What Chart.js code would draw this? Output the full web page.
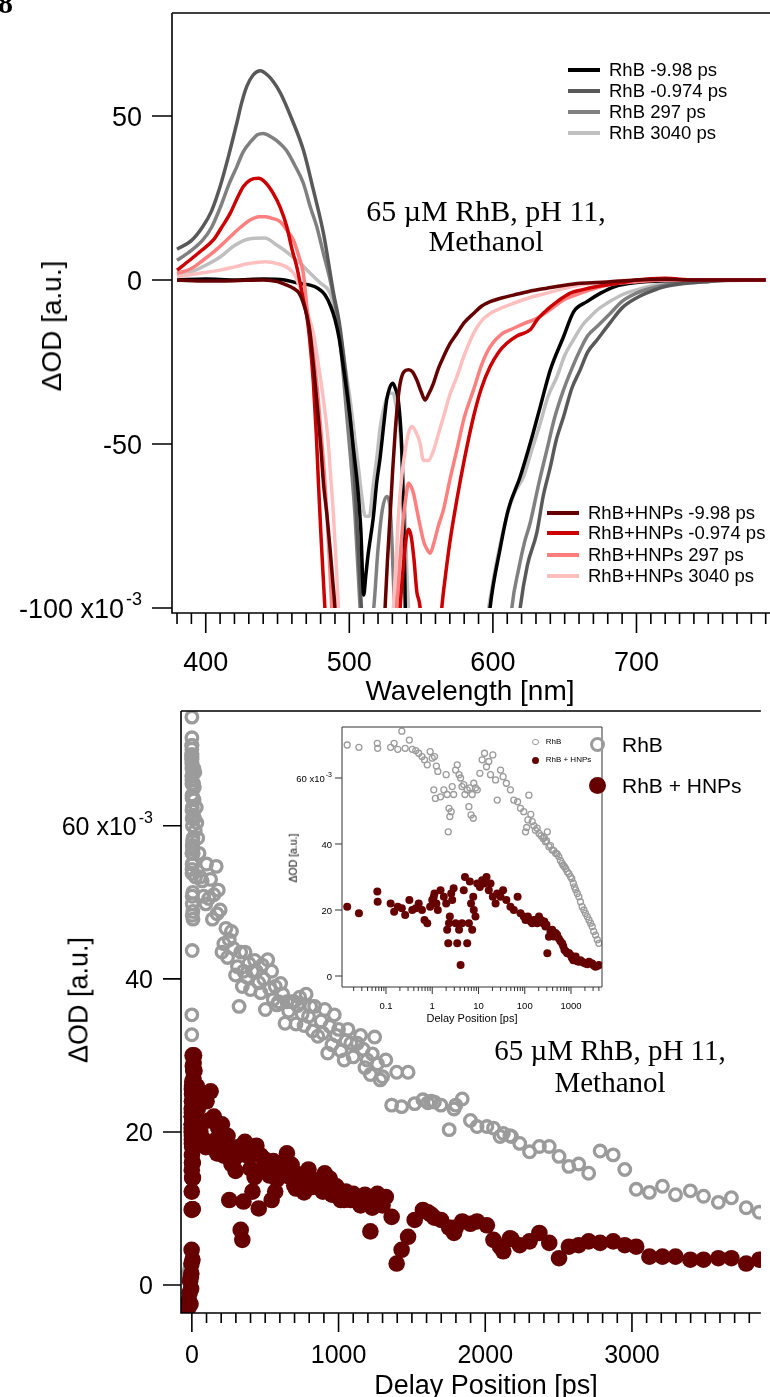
<!DOCTYPE html>
<html>
<head>
<meta charset="utf-8">
<script src="https://cdn.jsdelivr.net/npm/chart.js@4.4.1/dist/chart.umd.min.js"></script>
<style>
  body { margin: 0; background: #fff; }
  #page { position: relative; width: 770px; height: 1397px; overflow: hidden; background: #fff;
          font-family: 'Liberation Sans', Arial, sans-serif; color: #000; }
  canvas { position: absolute; }
  .t { position: absolute; white-space: nowrap; line-height: 1; }
  .mid { transform: translate(-50%, -50%); }
  .rot { transform: translate(-50%, -50%) rotate(-90deg); }
  .serif { font-family: 'Liberation Serif', 'Times New Roman', serif; text-align: center; }
</style>
</head>
<body>
<div id="page">
  <canvas id="spectra" width="770" height="700" style="left:0;top:0"></canvas>
  <canvas id="kinetics" width="770" height="697" style="left:0;top:700px"></canvas>
  <canvas id="inset" width="340" height="320" style="left:280px;top:710px"></canvas>

  <div class="t" style="left:-2px;top:-12px;font:bold 30px 'Liberation Serif',serif;line-height:30px">8</div>

  <div class="t rot" style="left:52px;top:326px;font-size:28px">ΔOD [a.u.]</div>
  <div class="t mid" style="left:470px;top:691px;font-size:28px">Wavelength [nm]</div>
  <div class="t serif" style="left:336px;top:196px;width:300px;font-size:30px;line-height:30px">65 µM RhB, pH 11,<br>Methanol</div>

  <div class="t rot" style="left:79px;top:1000px;font-size:27px">ΔOD [a.u.]</div>
  <div class="t mid" style="left:486px;top:1385px;font-size:27px">Delay Position [ps]</div>
  <div class="t serif" style="left:460px;top:1035px;width:300px;font-size:29px;line-height:31.5px">65 µM RhB, pH 11,<br>Methanol</div>

  <div class="t rot" style="left:293px;top:858px;font-size:10.5px">ΔOD [a.u.]</div>
  <div class="t mid" style="left:472px;top:1018px;font-size:11px">Delay Position [ps]</div>
</div>

<script>
// ---- transient spectra (ΔOD in units of 1e-3) ----
const rhbNeg998Nm = [380, 400, 420, 440, 455, 465, 472, 478, 483, 487, 490, 493, 496, 500, 503, 506, 508, 510, 511.5, 513, 516.8, 519, 521.5, 524, 526, 528, 530.3, 532, 534.2, 536.6, 538, 539.5, 545, 592, 598, 605, 610.7, 619, 626, 633, 640, 649.2, 656.2, 665.5, 675, 685, 700, 720, 750, 790];
const rhbNeg998Od = [0, 0.3, 0, 0.3, 0, -1, -1.5, -2.5, -4.5, -8, -12, -18, -27, -40, -52, -64, -76, -96, -90, -84, -72, -62, -54, -44, -36.6, -33, -31.5, -33, -37, -52, -75, -110, -130, -130, -100, -82, -70, -60, -49.8, -38.6, -27.4, -17.3, -9.7, -6.6, -4, -2, -0.8, -0.2, 0, 0];

const rhbNeg0974Nm = [380, 390, 398, 404, 410, 416, 421.6, 425, 428.6, 433, 438, 443, 447, 452, 460, 468, 475, 482, 489, 493, 496, 499, 502.6, 506, 509, 512, 612, 619, 624, 630.6, 635, 640, 644, 649.2, 655, 660.8, 666, 672.5, 681.7, 690, 700, 710, 720, 735, 750, 770, 790];
const rhbNeg0974Od = [9.4, 12, 16.3, 21, 28.5, 38, 47.8, 54, 59, 62.5, 63.8, 62.5, 60.5, 57, 49, 39.6, 27.4, 14.2, -4, -13, -23, -35, -52, -80, -105, -130, -130, -100, -87, -77, -66, -57, -49, -41.7, -33, -27.4, -22, -18.3, -13, -8.5, -5.5, -3.5, -2, -1, -0.5, 0, 0];

const rhb297Nm = [380, 390, 398, 404, 410, 416, 421.6, 426, 431, 436, 440, 446, 452, 456, 462, 468, 473, 477.3, 482, 486.6, 491.3, 495, 498.3, 501, 504, 507.5, 510, 513, 517, 520, 523, 526, 528.5, 531, 533, 560, 608, 613.2, 618, 622, 626, 632, 637.6, 643, 649.2, 655, 660.8, 666, 672.5, 681.7, 690, 700, 710, 720, 740, 760, 790];
const rhb297Od = [6, 9, 12.2, 16, 22, 29, 34.5, 39, 42, 44.3, 44.7, 43.5, 41.5, 39.6, 35, 29.5, 22, 16.3, 8, 0, -11, -25, -41.7, -55, -72, -100, -115, -110, -100, -82, -70, -66, -70, -95, -120, -130, -130, -100, -88, -80, -74, -62, -51.8, -42, -33.5, -27, -21.3, -17, -14.2, -10.2, -6.5, -4, -2.5, -1.5, -0.5, 0, 0];

const rhb3040Nm = [380, 390, 400, 410, 420, 430, 441, 450, 458, 466, 474, 480, 486, 490, 493.6, 497, 500.6, 503.5, 506.3, 509, 511, 514, 516.5, 519.2, 521.5, 523.8, 526, 528.4, 530.5, 532, 535.4, 537.5, 538.9, 540, 541.2, 543, 590, 597, 603, 609.7, 615, 621.3, 627, 633, 638, 644.6, 650, 656, 662, 667.8, 673, 679.4, 690, 700, 720, 750, 790];
const rhb3040Od = [1.5, 2.5, 4.5, 7, 10.5, 12.5, 12.8, 10.5, 8, 5, 1.5, -1, -3.5, -9, -16.3, -26, -36.6, -47, -57, -67, -72, -72, -63, -54, -45, -39.6, -36, -34.5, -34.5, -37, -46.7, -60, -72, -88, -100, -120, -120, -100, -85, -72, -65, -60, -52, -43.7, -36, -29.5, -23, -18.3, -14, -11.2, -9, -7.1, -4.5, -3, -1, -0.3, 0];

const hnpNeg998Nm = [380, 400, 420, 440, 450, 456, 461, 465, 468, 470.5, 472.7, 475, 477.3, 480, 482, 484.5, 486.6, 488.5, 490, 492, 522, 524.9, 526.5, 528.4, 530.2, 531.9, 533.5, 535.4, 538, 541.2, 544, 547, 550, 552.8, 555, 558.6, 562, 565.6, 570, 574.9, 580, 586.5, 592, 598.1, 606, 614.4, 625, 637.6, 650, 660.8, 680, 700, 720, 740, 790];
const hnpNeg998Od = [0, -0.3, -0.2, 0, -0.5, -1.5, -2.5, -4, -7.1, -11, -16.3, -26, -36.6, -50, -62, -72, -82, -92, -100, -120, -120, -100, -86, -72, -58, -46.7, -38, -31.5, -28, -27.4, -28, -30.5, -34, -36.6, -35, -31.5, -27, -23.4, -19.5, -16.3, -13, -10.2, -8, -6.6, -5.5, -4.6, -3.5, -2.5, -1.6, -1, -0.6, 0, 0.2, 0, 0];

const hnpNeg0974Nm = [380, 389, 397, 405.3, 411, 417, 422, 426.2, 431, 436.7, 442, 447, 452, 456.4, 460, 463.4, 466, 468, 470.4, 472.8, 475, 477, 478.5, 480.5, 483, 486, 533, 535.4, 537.5, 539.5, 541.2, 543, 545, 547, 549.3, 552, 561, 564.4, 567, 570, 574.9, 580, 586.5, 592, 598.1, 604, 609.7, 617, 625.9, 631, 637.6, 645, 653.9, 662, 672.5, 690, 700, 720, 740, 790];
const hnpNeg0974Od = [3, 6.1, 9, 12.2, 16, 20.3, 25, 28.5, 30.5, 31, 29.5, 26.4, 22, 16.3, 9.5, 4, -1.5, -6.1, -11, -20, -31.5, -47, -62, -80, -100, -120, -120, -100, -88, -79, -76, -78, -85, -95, -100, -120, -120, -100, -90, -80, -67, -55, -41.7, -33, -26.4, -22, -19.3, -17, -15.2, -12, -9.1, -6.5, -4, -3, -2, -0.8, 0, 0.5, 0, 0];

const hnp297Nm = [380, 390, 398.3, 408, 417, 424, 430.9, 437, 441.3, 446, 451.8, 456, 461, 465, 468, 470.4, 473, 475, 477.3, 480, 483.1, 485.5, 487.8, 490, 530, 533, 535.5, 537.7, 539.5, 541.2, 543, 544.7, 547, 549.3, 552, 554, 556.3, 559, 562, 565.6, 570, 574.9, 580, 586.5, 592, 598.1, 606, 614.4, 622, 630.6, 640, 649.2, 658, 667.8, 680, 700, 720, 790];
const hnp297Od = [2, 3.5, 6.1, 9.5, 13.2, 16, 18.3, 19.3, 19.3, 18.8, 17.8, 15.5, 12.2, 7, 2, -8, -17, -23, -31.5, -45, -62, -80, -100, -120, -120, -100, -84, -72, -66, -62, -63, -65, -70, -75, -80, -82, -83.3, -80, -75, -70, -61, -51.8, -42, -33.5, -26, -20.3, -16.5, -14.7, -13.2, -11.7, -9, -6.1, -4.5, -3, -1.5, -0.5, 0, 0];

const hnp3040Nm = [380, 395, 410, 420, 430, 441.3, 450, 458, 462, 466, 470, 473, 475, 478.5, 482, 485, 487, 489, 491, 492.4, 495, 528, 530.7, 532.5, 534.2, 536.5, 538.9, 541, 543.5, 546, 549.3, 551.6, 555, 558.6, 562, 565.6, 570, 574.9, 580, 586.5, 592, 598.1, 606, 614.4, 625, 637.6, 650, 660.8, 680, 700, 790];
const hnp3040Od = [1, 2, 3, 4, 5, 5.6, 5, 3.5, 1.5, -3, -9, -13, -16.3, -26, -36.6, -48, -60, -72, -88, -100, -120, -120, -100, -86, -72, -60, -52, -47, -44.7, -46, -49.8, -55, -55, -52, -47, -41.7, -35, -29.5, -23, -16.3, -12.5, -10.2, -8.5, -7.1, -5.5, -4, -2.5, -1.5, -0.6, 0, 0];

const spectraLabels = ['RhB -9.98 ps', 'RhB -0.974 ps', 'RhB 297 ps', 'RhB 3040 ps',
                       'RhB+HNPs -9.98 ps', 'RhB+HNPs -0.974 ps', 'RhB+HNPs 297 ps', 'RhB+HNPs 3040 ps'];
const spectraColors = ['#000000', '#595959', '#808080', '#bfbfbf', '#660000', '#cc0000', '#ff7f7f', '#ffbfbf'];
const spectraNm = [rhbNeg998Nm, rhbNeg0974Nm, rhb297Nm, rhb3040Nm, hnpNeg998Nm, hnpNeg0974Nm, hnp297Nm, hnp3040Nm];
const spectraOd = [rhbNeg998Od, rhbNeg0974Od, rhb297Od, rhb3040Od, hnpNeg998Od, hnpNeg0974Od, hnp297Od, hnp3040Od];

const spectraXTicks = [400, 500, 600, 700];
const spectraXLabels = ['400', '500', '600', '700'];
const spectraYTicks = [-100, -50, 0, 50];
const spectraYLabels = ['-100 x10^-3', '-50', '0', '50'];

// ---- kinetics (ΔOD in units of 1e-3 vs delay in ps) ----
const insetDelay = [0.0145, 0.026, 0.065, 0.066, 0.126, 0.15, 0.18, 0.22, 0.26, 0.32, 0.37, 0.44, 0.51, 0.6, 0.68, 0.78, 0.9, 1.0, 1.08, 1.12, 1.17, 1.23, 1.32, 1.51, 1.78, 2.0, 2.1, 2.22, 2.3, 2.4, 2.57, 2.7, 2.9, 3.2, 3.47, 3.8, 4.1, 4.4, 4.8, 5.1, 5.7, 6.2, 6.5, 6.9, 7.3, 7.7, 7.9, 8.6, 9.4, 10.7, 12, 13.5, 14.9, 16.7, 18.2, 20.4, 23.4, 25.4, 30, 34, 40, 49, 58, 70, 81, 95, 104, 110, 117, 123, 135, 145, 158, 170, 185, 203, 225, 250, 265, 280, 295, 308, 333, 360, 392, 425, 464, 500, 545, 590, 643, 680, 722, 770, 828, 900, 978, 1040, 1120, 1190, 1260, 1370, 1480, 1600, 1740, 1900, 2050, 2250, 2440, 2650, 2870, 3100, 3390, 3700, 4000];
const insetRhb = [70, 69.3, 70.5, 69, 69.3, 70.5, 68.7, 74.2, 69, 71.5, 68.7, 68.3, 67.5, 66.5, 65.5, 64, 68, 66, 56.4, 66.5, 53.8, 63.6, 62, 54.3, 56.4, 61, 55, 43.7, 50.8, 48.3, 49.8, 57.4, 55, 62.4, 64, 61, 60, 57.4, 58, 55, 56.4, 51.3, 57, 48.8, 55, 47.8, 58.4, 57, 56.4, 61.4, 65.5, 67.5, 63.4, 65, 61, 67, 59.4, 53.3, 62.4, 60.4, 58.4, 56.4, 53.3, 52.8, 50.8, 49.8, 43.7, 45, 47.3, 54.8, 49, 46.8, 45.5, 44.2, 44.8, 43.2, 42.5, 41.7, 42, 40.7, 41, 43.7, 39.2, 39.5, 38.2, 38, 37.2, 37, 36.2, 35, 34.1, 33.5, 33.1, 32.5, 31.6, 31, 30.1, 29.5, 28.1, 27, 26.1, 25, 24, 22.5, 21, 20, 19, 18, 17, 16, 15, 13.5, 12.4, 11, 9.9];
const insetHnp = [21, 19, 25.6, 22.5, 22, 19.5, 21, 20.5, 18.5, 23, 20, 20.5, 22, 20, 17, 16, 21, 23, 24, 25, 22, 22, 20, 26, 24, 22, 14, 9.9, 16, 18, 25, 23, 26.6, 16, 9.9, 14, 3.3, 16, 26, 30, 9.9, 16, 28.6, 22, 14, 24, 20, 18, 28, 27, 29, 28, 30, 26, 28, 24, 22, 25, 24, 26, 23, 21, 20, 24, 19, 18, 17, 17.5, 18, 17, 16.5, 16, 17, 17, 16, 18, 17, 16, 16.5, 15, 15.5, 6.9, 11.9, 13.5, 14, 12, 13, 12.5, 11.4, 10.5, 9.9, 9, 7.9, 7.5, 6.9, 7, 6.4, 5.5, 4.8, 5.2, 5.9, 4.5, 4.3, 4.8, 4.3, 4, 3.8, 3.6, 4.3, 3.9, 3.8, 3.2, 2.8, 3, 3.3];

// points before time zero (only on the linear plot)
const preDelay = [-25, -20, -15, -12, -9, -7, -5, -3.5, -2.5, -1.5, -1, -0.6, -0.3];
const preRhb = [1.5, 0.8, 2, 1.2, 2.5, 1, 1.8, 2.2, 1.4, 2.6, 14, 32.7, 35.3];
const preHnp = [-3, -2, -1, 0.5, -2.5, 1, -0.5, 1.5, 2.8, 4.6, 9.8, 12.2, 15];

// long delays
const lateDelay = [100, 128, 150, 166, 180, 193, 205, 232, 255, 282, 311, 322, 333, 344, 352, 362, 389, 413, 440, 456, 490, 501, 517, 544, 568, 591, 620, 635, 648, 680, 698, 720, 752, 779, 810, 837, 859, 881, 906, 926, 971, 1000, 1038, 1064, 1083, 1128, 1168, 1195, 1217, 1246, 1284, 1322, 1362, 1396, 1430, 1474, 1519, 1575, 1609, 1631, 1653, 1698, 1754, 1787, 1799, 1843, 1899, 1944, 2011, 2056, 2101, 2123, 2168, 2179, 2235, 2302, 2369, 2436, 2503, 2570, 2637, 2705, 2783, 2872, 2951, 3029, 3119, 3208, 3297, 3398, 3488, 3589, 3678, 3779, 3868];
const lateRhb = [55, 53, 51, 54.7, 51.6, 49, 43.5, 46.6, 45.1, 44, 41.6, 36.4, 43.5, 39, 41, 43.5, 42, 41, 41, 39.5, 40, 36, 42.5, 41, 39, 37, 38, 34.2, 37, 37, 37, 36.5, 35.4, 38, 36.4, 36.4, 32.5, 34.5, 36, 30.3, 35.3, 33.4, 29.4, 33.4, 31.6, 31.6, 30.8, 29.4, 27.5, 32.4, 26.8, 29.4, 23.5, 27.8, 23.3, 27.8, 23.7, 24.2, 23.8, 24, 23.9, 23.5, 20.3, 23, 23.5, 24.3, 21.5, 20.7, 20.7, 20.5, 19.4, 19.8, 19.5, 19.4, 18.5, 17.4, 18.1, 18.1, 16.8, 15.5, 15.8, 14.6, 17.5, 17, 15.1, 12.5, 12.1, 12.9, 11.8, 12.3, 11.6, 10.8, 11.4, 10.1, 9.5];
const lateHnp = [24, 25.3, 22, 19, 20.5, 19, 21, 17.7, 11.1, 16.2, 18, 17, 7.2, 5.9, 10.9, 18.7, 16.8, 12.2, 18.2, 10, 16.5, 16, 15.7, 11.1, 12.2, 15, 14.5, 16, 17.2, 15.7, 13, 14.5, 13.6, 14.6, 13.7, 13.5, 13.7, 13.7, 14.6, 13.2, 12.5, 11.5, 11.1, 11.5, 11.1, 11.3, 11.5, 10.6, 7, 11, 10.7, 11.5, 8.9, 2.8, 4.6, 6.3, 8.5, 9.8, 9.5, 9.2, 8.8, 8.5, 7.5, 6.8, 7.5, 8.3, 8, 8.3, 7.8, 5.9, 5, 4.4, 6.1, 6, 5.2, 5.7, 6.8, 5.5, 3.5, 5, 5.2, 5.7, 5.5, 5.7, 5.2, 5, 3.7, 3.7, 3.7, 3.3, 3.3, 3.5, 3.5, 2.8, 3.3];

// more points in the crowded 100-1300 ps band of the linear plot
const midDelay = [115, 140, 172, 218, 243, 270, 298, 375, 400, 428, 470, 480, 530, 555, 580, 605, 660, 710, 735, 765, 795, 823, 893, 940, 955, 985, 1015, 1050, 1100, 1150, 1180, 1230, 1265, 1300];
const midRhb = [50.5, 47.8, 48.5, 44.6, 42.8, 46.2, 40.5, 40.2, 38.6, 42.4, 38.2, 41.8, 38.7, 37.3, 36.6, 39.4, 35.8, 34.1, 37.6, 33.9, 35.1, 33.2, 32.9, 33.8, 31.4, 32.6, 30.6, 31.9, 29.8, 32.6, 28.4, 30.2, 28.9, 27.2];
const midHnp = [21.5, 18.4, 17.2, 16.9, 19.5, 15.8, 14.9, 17.6, 15.2, 14.1, 16.9, 15.1, 14.3, 16.2, 13.8, 15.5, 14.2, 12.6, 13.9, 12.1, 15.1, 12.8, 12.2, 13.9, 11.8, 12.9, 11.1, 12.2, 11.9, 10.4, 11.8, 10.1, 11.9, 10.4];

const kinXTicks = [0, 1000, 2000, 3000];
const kinXLabels = ['0', '1000', '2000', '3000'];
const kinYTicks = [0, 20, 40, 60];
const kinYLabels = ['0', '20', '40', '60 x10^-3'];
const insetXTicks = [0.1, 1, 10, 100, 1000];
const insetXLabels = ['0.1', '1', '10', '100', '1000'];

const grayRing = '#9b9b9b';
const darkRed = '#660000';

// Igor-style axes: ticks outside, frame lines, labels with exponent
const igorAxes = {
  id: 'igorAxes',
  afterDatasetsDraw(chart, args, o) {
    const ctx = chart.ctx, a = chart.chartArea;
    const xs = chart.scales.x, ys = chart.scales.y;
    const yAxis = a.bottom + o.standoff;
    const inX = p => p >= a.left - 0.5 && p <= a.right + 0.5;
    ctx.save();
    ctx.strokeStyle = o.color;
    ctx.fillStyle = '#000';
    ctx.lineWidth = o.lineWidth;
    ctx.beginPath();
    ctx.moveTo(a.left, a.top); ctx.lineTo(a.left, yAxis); ctx.lineTo(a.right, yAxis);
    if (o.box) { ctx.lineTo(a.right, a.top); ctx.lineTo(a.left, a.top); }
    else { ctx.moveTo(a.left, a.top); ctx.lineTo(a.right, a.top); }
    o.xMinor.forEach(v => {
      const p = xs.getPixelForValue(v);
      if (inX(p)) { ctx.moveTo(p, yAxis); ctx.lineTo(p, yAxis + o.xMinorLen); }
    });
    o.xMajor.forEach(v => {
      const p = xs.getPixelForValue(v);
      if (inX(p)) { ctx.moveTo(p, yAxis); ctx.lineTo(p, yAxis + o.xMajorLen); }
    });
    o.yMajor.forEach(v => {
      const p = ys.getPixelForValue(v);
      ctx.moveTo(a.left - o.yMajorLen, p); ctx.lineTo(a.left, p);
    });
    ctx.stroke();

    ctx.textBaseline = 'middle';
    ctx.font = o.font;
    ctx.textAlign = 'center';
    o.xMajor.forEach((v, i) => {
      ctx.fillText(o.xLabels[i], xs.getPixelForValue(v), yAxis + o.xLabelGap);
    });
    ctx.textAlign = 'right';
    o.yMajor.forEach((v, i) => {
      const p = ys.getPixelForValue(v) + o.labelDy;
      const parts = o.yLabels[i].split('^');
      let right = a.left - o.yLabelGap;
      if (parts[1]) {
        ctx.font = o.supFont;
        ctx.fillText(parts[1], right, p - o.supRise);
        right -= ctx.measureText(parts[1]).width + o.supGap;
        ctx.font = o.font;
      }
      ctx.fillText(parts[0], right, p);
    });
    ctx.restore();
  }
};

function plainScales(xType, xMin, xMax, yMin, yMax, yWidth, xHeight) {
  const hidden = { grid: { display: false }, border: { display: false }, ticks: { display: false } };
  return {
    x: Object.assign({ type: xType, min: xMin, max: xMax, afterFit: s => { s.height = xHeight; } }, hidden),
    y: Object.assign({ type: 'linear', min: yMin, max: yMax, afterFit: s => { s.width = yWidth; } }, hidden)
  };
}

function stepsExcept(from, to, step, skip) {
  const out = [];
  for (let v = from; v <= to + 1e-9; v += step) {
    const r = Math.round(v * 1000) / 1000;
    if (!skip.includes(r)) out.push(r);
  }
  return out;
}

Chart.defaults.font.family = "'Liberation Sans', Arial, sans-serif";

// ---------- top: spectra ----------
new Chart(document.getElementById('spectra'), {
  type: 'line',
  data: {
    datasets: spectraLabels.map((label, k) => ({
      label: label,
      data: spectraNm[k].map((x, i) => ({ x: x, y: spectraOd[k][i] })),
      borderColor: spectraColors[k],
      borderWidth: 3.5,
      pointRadius: 0,
      fill: false,
      cubicInterpolationMode: 'monotone',
      clip: 0,
      order: k < 4 ? 1 : 0
    }))
  },
  options: {
    responsive: false,
    animation: false,
    events: [],
    layout: { padding: { top: 13, right: 0, bottom: 0, left: 0 } },
    scales: plainScales('linear', 376.5, 793, -100, 81.4, 172, 92),
    plugins: {
      legend: { display: false },
      tooltip: { enabled: false },
      igorAxes: {
        color: '#000', lineWidth: 1.6, standoff: 5, box: false,
        xMajor: spectraXTicks, xLabels: spectraXLabels,
        xMinor: stepsExcept(380, 790, 10, spectraXTicks),
        xMajorLen: 20, xMinorLen: 11, xLabelGap: 51,
        yMajor: spectraYTicks, yLabels: spectraYLabels, yMajorLen: 20, yLabelGap: 30, labelDy: 3,
        font: '27px "Liberation Sans", Arial, sans-serif',
        supFont: '18px "Liberation Sans", Arial, sans-serif', supRise: 11, supGap: 2
      }
    }
  },
  plugins: [igorAxes]
});

// ---------- bottom: kinetics, linear delay ----------
const earlyIdx = insetDelay.map((d, i) => i).filter(i => insetDelay[i] < 100);
const mainRhb = preDelay.map((d, i) => ({ x: d, y: preRhb[i] }))
  .concat(earlyIdx.map(i => ({ x: insetDelay[i], y: insetRhb[i] })))
  .concat(lateDelay.map((d, i) => ({ x: d, y: lateRhb[i] })))
  .concat(midDelay.map((d, i) => ({ x: d, y: midRhb[i] })));
const mainHnp = preDelay.map((d, i) => ({ x: d, y: preHnp[i] }))
  .concat(earlyIdx.map(i => ({ x: insetDelay[i], y: insetHnp[i] })))
  .concat(lateDelay.map((d, i) => ({ x: d, y: lateHnp[i] })))
  .concat(midDelay.map((d, i) => ({ x: d, y: midHnp[i] })));

new Chart(document.getElementById('kinetics'), {
  type: 'scatter',
  data: {
    datasets: [
      { label: 'RhB', data: mainRhb, pointRadius: 5.8, pointBorderWidth: 3.3,
        pointBorderColor: grayRing, pointBackgroundColor: 'rgba(0,0,0,0)', order: 1 },
      { label: 'RhB + HNPs', data: mainHnp, pointRadius: 8.3, pointBorderWidth: 0,
        pointBorderColor: darkRed, pointBackgroundColor: darkRed, order: 0 }
    ]
  },
  options: {
    responsive: false,
    animation: false,
    events: [],
    layout: { padding: { top: 11, right: 0, bottom: 0, left: 0 } },
    scales: plainScales('linear', -74, 3879, -3.66, 75, 181, 84),
    plugins: {
      legend: { display: false },
      tooltip: { enabled: false },
      igorAxes: {
        color: '#000', lineWidth: 1.6, standoff: 0, box: false,
        xMajor: kinXTicks, xLabels: kinXLabels,
        xMinor: stepsExcept(100, 3800, 100, kinXTicks),
        xMajorLen: 19, xMinorLen: 10, xLabelGap: 43,
        yMajor: kinYTicks, yLabels: kinYLabels, yMajorLen: 18, yLabelGap: 28, labelDy: 2.5,
        font: '25px "Liberation Sans", Arial, sans-serif',
        supFont: '16px "Liberation Sans", Arial, sans-serif', supRise: 10, supGap: 2
      }
    }
  },
  plugins: [igorAxes]
});

// ---------- inset: kinetics, log delay ----------
const insetMinor = [];
for (let e = -2; e <= 3; e++) for (let m = 2; m <= 9; m++) insetMinor.push(m * Math.pow(10, e));

new Chart(document.getElementById('inset'), {
  type: 'scatter',
  data: {
    datasets: [
      { label: 'RhB', data: insetDelay.map((d, i) => ({ x: d, y: insetRhb[i] })),
        pointRadius: 3, pointBorderWidth: 1.3, pointBorderColor: grayRing,
        pointBackgroundColor: 'rgba(0,0,0,0)', order: 1 },
      { label: 'RhB + HNPs', data: insetDelay.map((d, i) => ({ x: d, y: insetHnp[i] })),
        pointRadius: 4, pointBorderWidth: 0, pointBorderColor: darkRed,
        pointBackgroundColor: darkRed, order: 0 }
    ]
  },
  options: {
    responsive: false,
    animation: false,
    events: [],
    layout: { padding: { top: 17, right: 18, bottom: 0, left: 0 } },
    scales: plainScales('logarithmic', 0.0112, 4677, -3.33, 75.45, 62, 43),
    plugins: {
      legend: { display: false },
      tooltip: { enabled: false },
      igorAxes: {
        color: '#333', lineWidth: 1, standoff: 0, box: true,
        xMajor: insetXTicks, xLabels: insetXLabels, xMinor: insetMinor,
        xMajorLen: 7, xMinorLen: 4, xLabelGap: 19,
        yMajor: kinYTicks, yLabels: kinYLabels, yMajorLen: 7, yLabelGap: 10, labelDy: 1,
        font: '9.5px "Liberation Sans", Arial, sans-serif',
        supFont: '7px "Liberation Sans", Arial, sans-serif', supRise: 4, supGap: 1
      }
    }
  },
  plugins: [igorAxes]
});

// ---------- legends ----------
const page = document.getElementById('page');
function addDiv(style, text) {
  const d = document.createElement('div');
  d.style.cssText = 'position:absolute;white-space:nowrap;line-height:1;' + style;
  if (text) d.textContent = text;
  page.appendChild(d);
}
const legendRowsTop = [70, 90.7, 111.7, 132.7];
const legendRowsBottom = [512.7, 533.3, 554.5, 576];
spectraLabels.forEach((label, k) => {
  const first = k < 4;
  const y = first ? legendRowsTop[k] : legendRowsBottom[k - 4];
  const x0 = first ? 568 : 547;
  addDiv('left:' + x0 + 'px;top:' + (y - 2) + 'px;width:32px;height:4px;background:' + spectraColors[k]);
  addDiv('left:' + (x0 + 41) + 'px;top:' + y + 'px;font-size:18.5px;transform:translateY(-50%)', label);
});

const kinLegend = ['RhB', 'RhB + HNPs'];
// main legend
addDiv('left:589.5px;top:736.5px;width:15px;height:15px;box-sizing:border-box;border:3.3px solid ' + grayRing + ';border-radius:50%');
addDiv('left:588.5px;top:776.5px;width:17px;height:17px;border-radius:50%;background:' + darkRed);
addDiv('left:622px;top:744px;font-size:21px;transform:translateY(-50%)', kinLegend[0]);
addDiv('left:622px;top:785px;font-size:21px;transform:translateY(-50%)', kinLegend[1]);
// inset legend
addDiv('left:532px;top:738.7px;width:6.5px;height:6.5px;box-sizing:border-box;border:1.3px solid ' + grayRing + ';border-radius:50%');
addDiv('left:531.5px;top:756.5px;width:7.5px;height:7.5px;border-radius:50%;background:' + darkRed);
addDiv('left:545.7px;top:741.7px;font-size:8px;transform:translateY(-50%)', kinLegend[0]);
addDiv('left:545.7px;top:760px;font-size:8px;transform:translateY(-50%)', kinLegend[1]);
</script>
</body>
</html>
